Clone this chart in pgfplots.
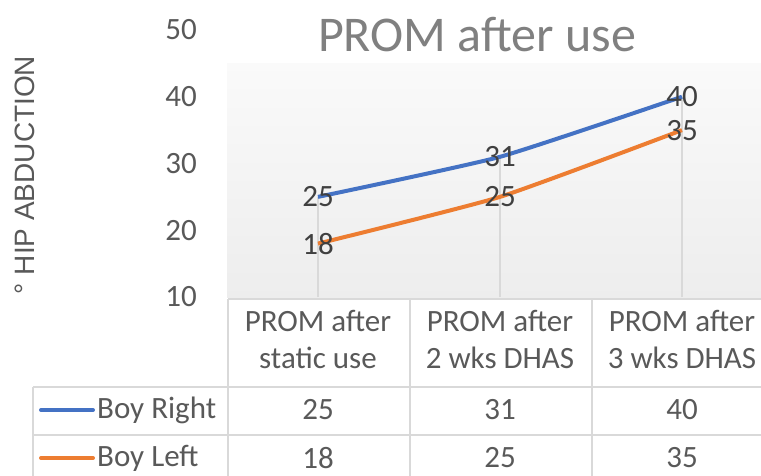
\documentclass[border=0pt]{standalone}
\usepackage{pgfplots}
\pgfplotsset{compat=1.18}
\usepackage{fontspec}
\setmainfont{Carlito}
\newfontfamily\labelfont{Liberation Sans}
\definecolor{sblue}{HTML}{4472C4}
\definecolor{sorange}{HTML}{ED7D31}
\definecolor{txt}{HTML}{595959}
\definecolor{dlab}{HTML}{404040}
\definecolor{ttl}{HTML}{808080}
\definecolor{gridc}{HTML}{D9D9D9}
\newcommand{\bigf}{\fontsize{31}{37}\selectfont}
\begin{document}
\begin{tikzpicture}[x=1pt,y=1pt]
\useasboundingbox (0,0) rectangle (761,475);
\clip (0,0) rectangle (761,475);
\begin{axis}[
  at={(227pt,178pt)}, anchor=south west,
  scale only axis, width=546pt, height=267pt,
  xmin=-0.5, xmax=2.5, ymin=10, ymax=50,
  /pgf/number format/assume math mode=true,
  axis line style={draw=none},
  major tick length=0pt,
  xtick={0,1,2},
  xticklabels={{PROM after\\static use},{PROM after\\2 wks DHAS},{PROM after\\3 wks DHAS}},
  xticklabel style={align=center, font=\bigf, text=txt, anchor=north, inner sep=0pt, yshift=-13pt},
  ytick={10,20,30,40,50},
  yticklabel style={font=\bigf, text=txt, anchor=east, inner sep=0pt, xshift=-30pt},
  clip=false,
]
\shade[top color=white!98!black, bottom color=white!93!black] (axis cs:-0.5,10) rectangle (axis cs:2.5,45.05);
\addplot[ycomb, draw=gridc, line width=1.2pt, mark=none] coordinates {(0,25) (1,31) (2,40)};
\addplot[sblue, line width=4pt, smooth, tension=0.3, mark=none,
  nodes near coords, every node near coord/.style={anchor=center, font=\bigf, text=dlab}] coordinates {(0,25) (1,31) (2,40)};
\addplot[sorange, line width=4pt, smooth, tension=0.3, mark=none,
  nodes near coords, every node near coord/.style={anchor=center, font=\bigf, text=dlab}] coordinates {(0,18) (1,25) (2,35)};
\end{axis}
% title
\node[anchor=base, font=\fontsize{50}{60}\selectfont, text=ttl] at (477,423) {PROM after use};
% y label
\node[rotate=90, font=\labelfont\fontsize{28}{33}\selectfont, text=txt] at (25,300) {° HIP ABDUCTION};
% data table grid
\draw[gridc, line width=1.5pt] (228,176) -- (780,176);
\draw[gridc, line width=1.5pt] (33,88) -- (780,88);
\draw[gridc, line width=1.5pt] (33,40) -- (780,40);
\draw[gridc, line width=1.5pt] (33,88) -- (33,-5);
\draw[gridc, line width=1.5pt] (228,176) -- (228,-5);
\draw[gridc, line width=1.5pt] (410,176) -- (410,-5);
\draw[gridc, line width=1.5pt] (592,176) -- (592,-5);
\draw[gridc, line width=1.5pt] (774,176) -- (774,-5);
% legend keys
\draw[sblue, line width=4pt, line cap=round] (41,65) -- (93,65);
\draw[sorange, line width=4pt, line cap=round] (41,17) -- (93,17);
\node[anchor=west, font=\bigf, text=txt, inner sep=0pt] at (97,65) {Boy Right};
\node[anchor=west, font=\bigf, text=txt, inner sep=0pt] at (97,17) {Boy Left};
% table values
\foreach \x/\a/\b in {318/25/18, 500/31/25, 682/40/35} {
  \node[font=\bigf, text=txt] at (\x,65) {\a};
  \node[font=\bigf, text=txt] at (\x,17) {\b};
}
\end{tikzpicture}
\end{document}
